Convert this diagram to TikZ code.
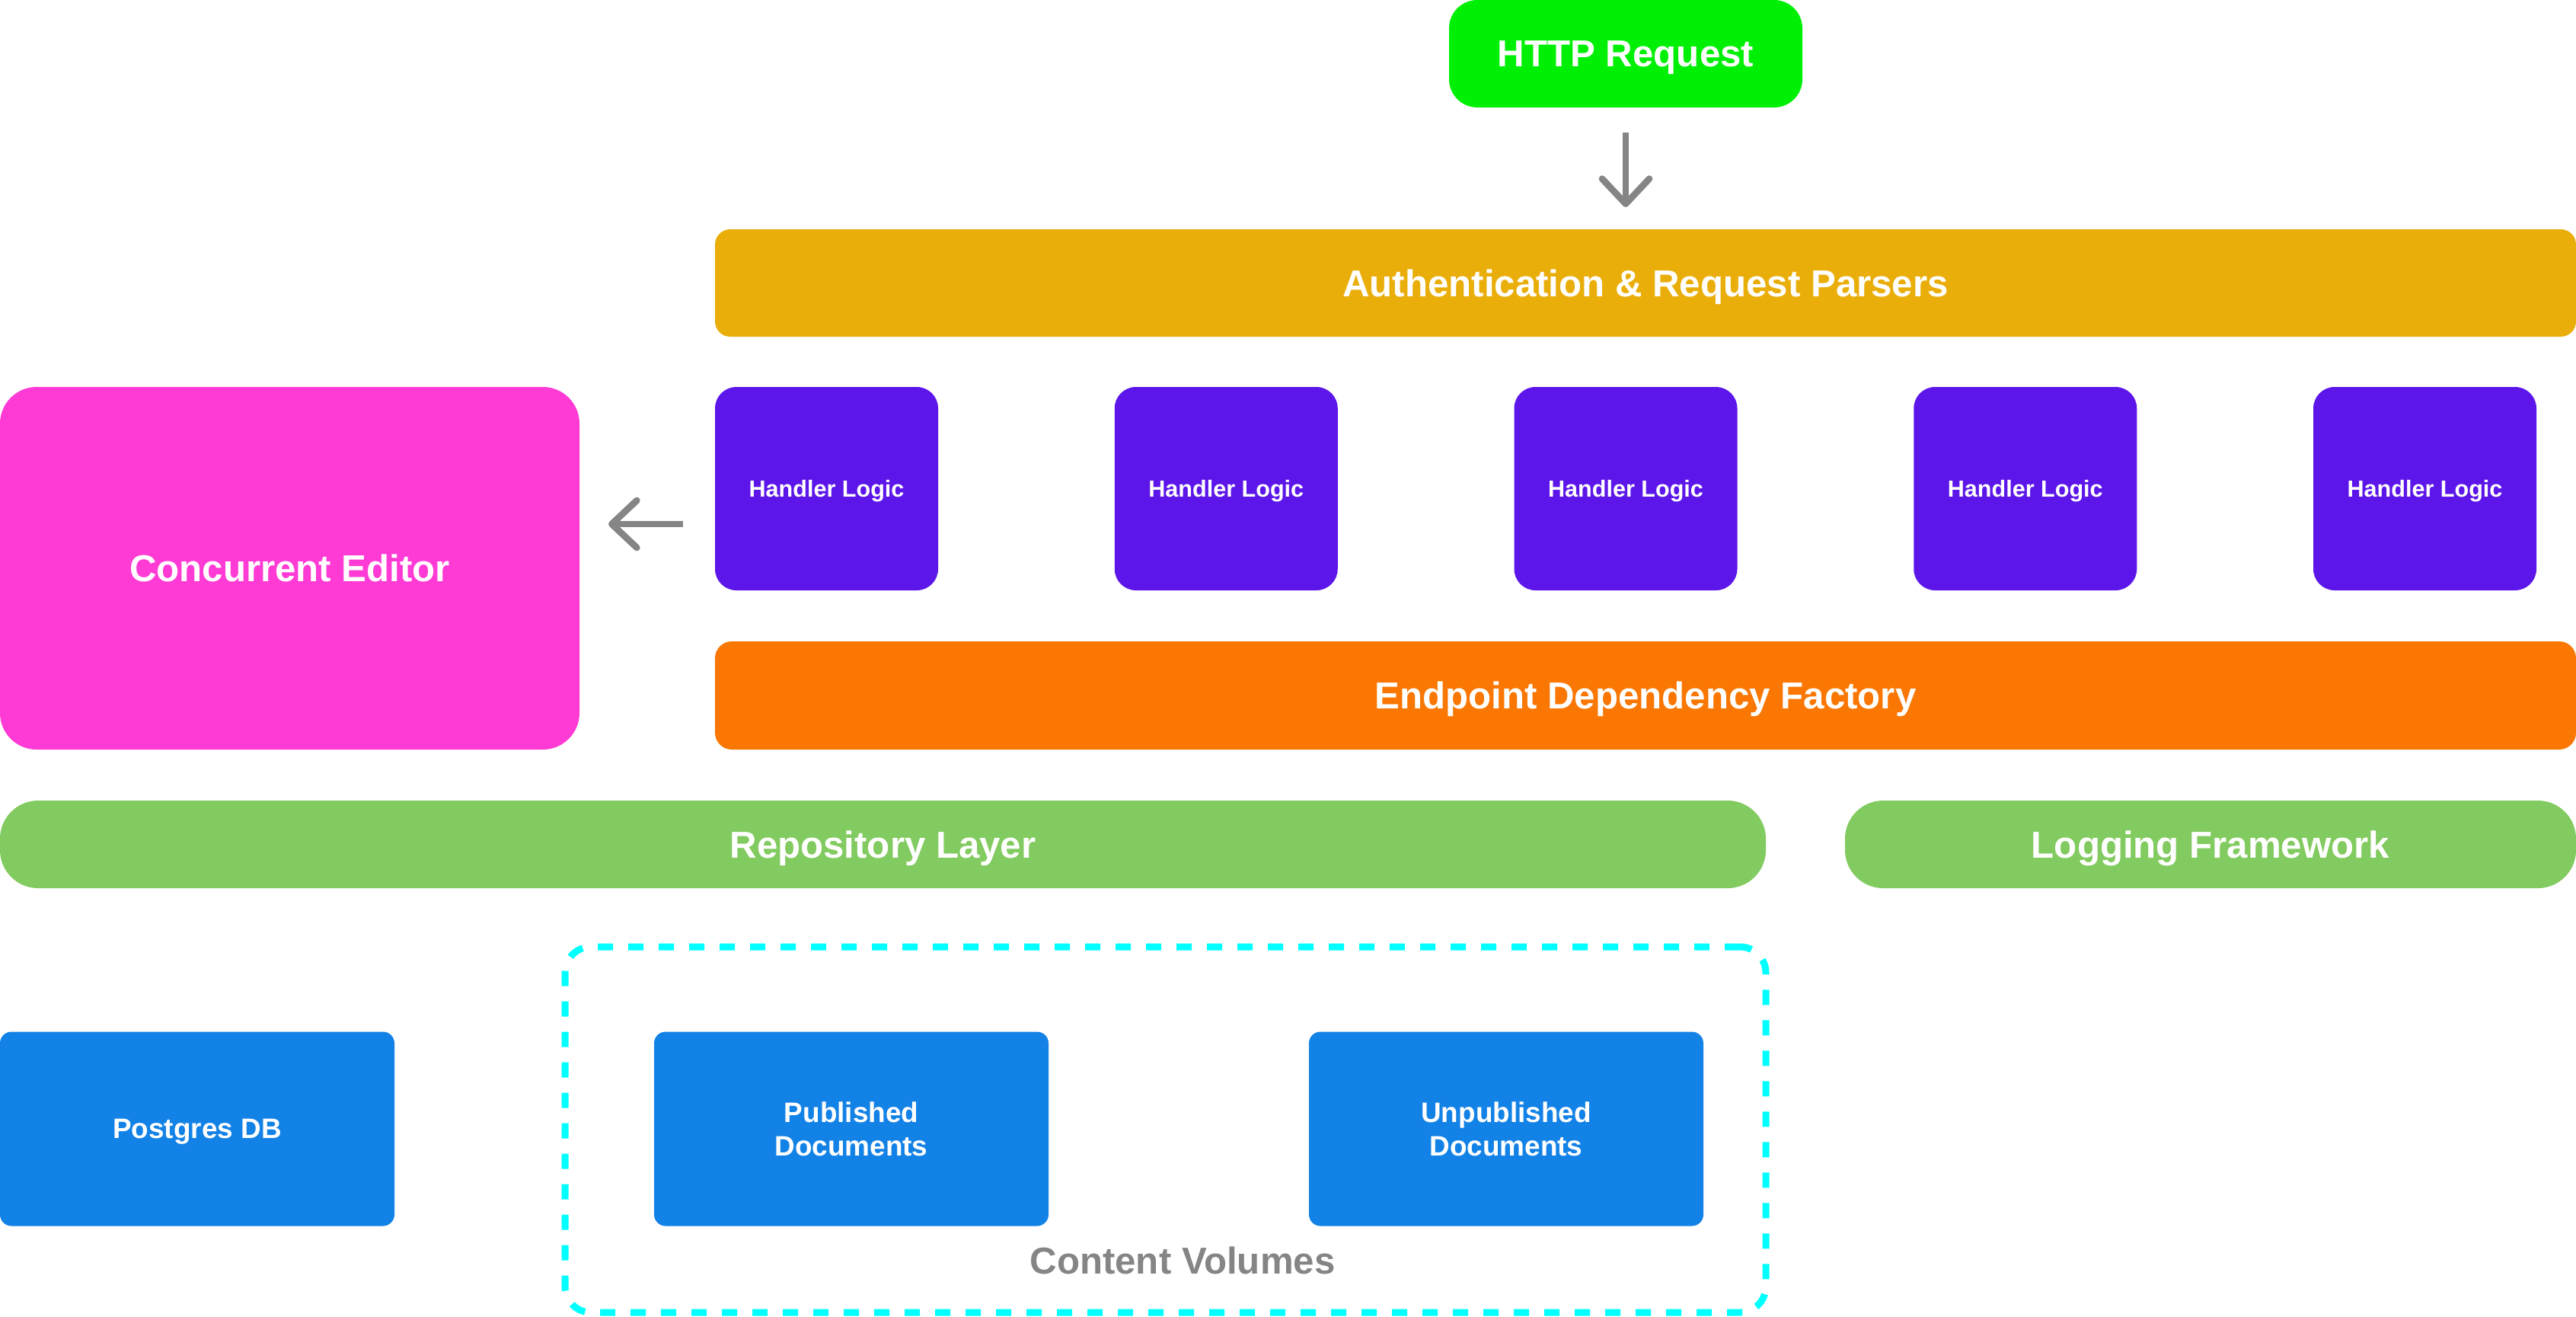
\documentclass[tikz,border=0pt]{standalone}
\usepackage{fontspec}
\setmainfont{Liberation Sans}
\usetikzlibrary{arrows.meta}
\definecolor{reqgreen}{RGB}{0,240,5}
\definecolor{authyellow}{RGB}{234,174,10}
\definecolor{handlerviolet}{RGB}{92,22,233}
\definecolor{editorpink}{RGB}{255,58,213}
\definecolor{factoryorange}{RGB}{249,119,2}
\definecolor{layergreen}{RGB}{130,203,96}
\definecolor{storeblue}{RGB}{19,130,230}
\definecolor{volcyan}{RGB}{0,255,255}
\definecolor{arrowgrey}{RGB}{133,133,133}
\begin{document}
\begin{tikzpicture}[
  block/.style={fill=#1,text=white,inner sep=0pt,outer sep=0pt,align=center,
    text depth=0pt,font=\bfseries\fontsize{14}{17}\selectfont},
  handler/.style={block=handlerviolet,minimum width=2.93cm,minimum height=2.67cm,
    rounded corners=0.28cm,font=\bfseries\fontsize{8.7}{10}\selectfont},
  store/.style={block=storeblue,minimum width=5.18cm,minimum height=2.55cm,
    rounded corners=0.15cm,font=\bfseries\fontsize{10.5}{12.3}\selectfont},
  arr/.style={draw=arrowgrey,line width=0.087cm,
    -{Straight Barb[round,length=0.33cm,width=0.62cm]}},
  volbox/.style={draw=volcyan,line width=0.09cm,dash pattern=on 0.2cm off 0.2cm,
    rounded corners=0.34cm,minimum width=15.77cm,minimum height=4.8cm,outer sep=0pt}
]
\useasboundingbox (0,0) rectangle (33.83,-17.28);
% top
\node[block=reqgreen,minimum width=4.64cm,minimum height=1.41cm,rounded corners=0.37cm] (http) at (21.35,-0.705) {HTTP Request};
\node[block=authyellow,minimum width=24.44cm,minimum height=1.41cm,rounded corners=0.2cm] (auth) at (21.61,-3.715) {Authentication \& Request Parsers};
\draw[arr,shorten <=0.33cm,shorten >=0.29cm] (http.south) -- (http.south |- auth.north);
% handlers
\foreach \i in {1,...,5}
  \node[handler] (h\i) at ({10.855+5.2475*(\i-1)},-6.415) {Handler Logic};
\node[block=editorpink,minimum width=7.61cm,minimum height=4.76cm,rounded corners=0.48cm] (editor) at (3.805,-7.46) {Concurrent Editor};
\draw[arr,shorten <=0.42cm,shorten >=0.38cm] ([yshift=-0.465cm]h1.west) -- ([yshift=-0.465cm]h1.west -| editor.east);
\node[block=factoryorange,minimum width=24.44cm,minimum height=1.42cm,rounded corners=0.22cm] (factory) at (21.61,-9.13) {Endpoint Dependency Factory};
% layers
\node[block=layergreen,minimum width=23.19cm,minimum height=1.15cm,rounded corners=0.5cm] (repo) at (11.595,-11.085) {Repository Layer};
\node[block=layergreen,minimum width=9.6cm,minimum height=1.15cm,rounded corners=0.5cm] (logging) at (29.03,-11.085) {Logging Framework};
% storage
\node[store] (pg) at (2.59,-14.82) {Postgres DB};
\node[volbox] (vol) at (15.305,-14.83) {};
\node[store] (pub) at (11.18,-14.82) {Published\\Documents};
\node[store] (unpub) at (19.78,-14.82) {Unpublished\\Documents};
\node[text=arrowgrey,font=\bfseries\fontsize{14}{17}\selectfont] (vollabel) at (15.53,-16.55) {Content Volumes};
\end{tikzpicture}
\end{document}
